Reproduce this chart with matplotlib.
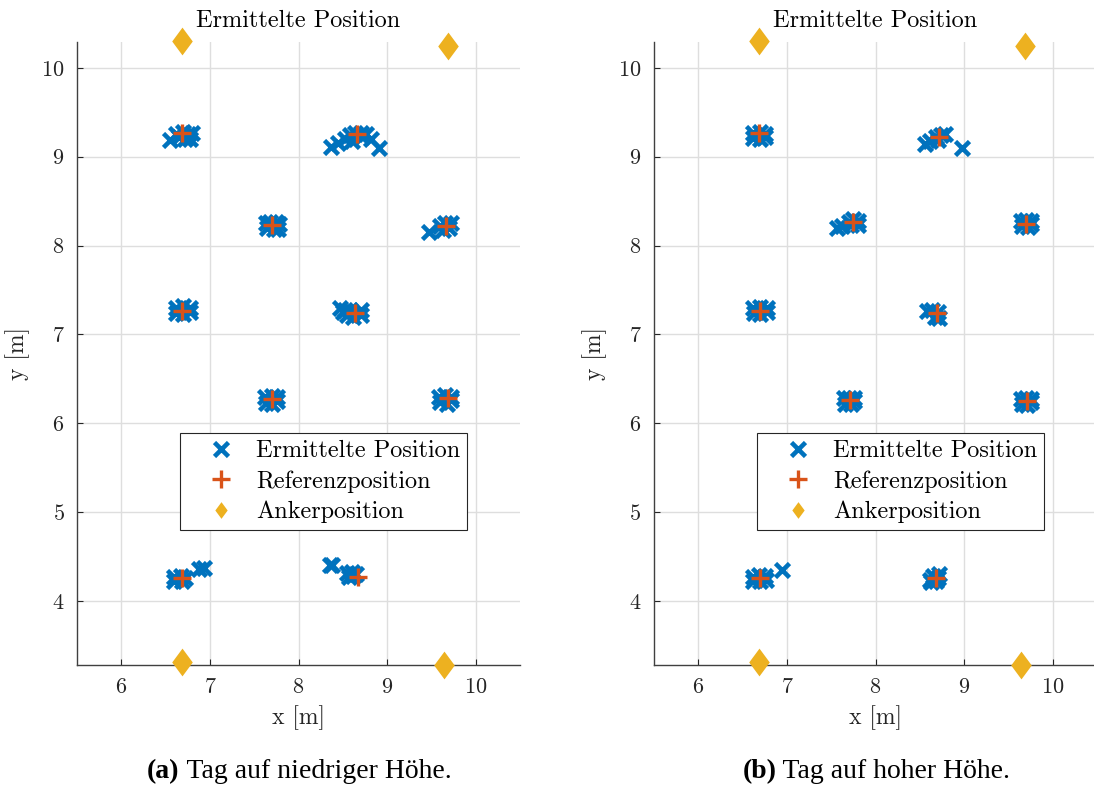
import matplotlib
matplotlib.use("Agg")
import matplotlib.pyplot as plt
from matplotlib.lines import Line2D

plt.rcParams['font.family'] = ['cmr10', 'DejaVu Serif']
plt.rcParams['axes.formatter.use_mathtext'] = True
plt.rcParams['mathtext.fontset'] = 'cm'

BLUE = '#0072BD'
ORANGE = '#D95319'
YELLOW = '#EDB120'

# --- (a) Tag auf niedriger Hoehe ---
est_x_a = [6.55, 6.62, 6.65, 6.72, 6.78, 6.80, 6.70, 6.75,
           8.37, 8.45, 8.52, 8.58, 8.64, 8.70, 8.76, 8.82, 8.91, 8.60, 8.72,
           7.63, 7.68, 7.75, 7.78, 7.64, 7.72, 7.77,
           9.47, 9.60, 9.65, 9.72, 9.70, 9.63,
           6.62, 6.70, 6.77, 6.62, 6.70, 6.77,
           8.47, 8.52, 8.58, 8.55, 8.62, 8.70, 8.70, 8.50,
           7.62, 7.70, 7.76, 7.63, 7.70, 7.76,
           9.58, 9.65, 9.72, 9.60, 9.67, 9.72,
           6.60, 6.67, 6.72, 6.60, 6.68, 6.88, 6.93,
           8.35, 8.38, 8.55, 8.60, 8.57, 8.62, 8.65]
est_y_a = [9.19, 9.26, 9.22, 9.20, 9.20, 9.27, 9.28, 9.25,
           9.11, 9.15, 9.20, 9.24, 9.27, 9.27, 9.25, 9.20, 9.10, 9.18, 9.22,
           8.25, 8.27, 8.27, 8.24, 8.20, 8.19, 8.19,
           8.15, 8.22, 8.25, 8.25, 8.20, 8.18,
           7.30, 7.32, 7.30, 7.24, 7.23, 7.25,
           7.30, 7.27, 7.28, 7.22, 7.20, 7.22, 7.27, 7.25,
           6.30, 6.31, 6.30, 6.23, 6.22, 6.25,
           6.30, 6.32, 6.30, 6.24, 6.22, 6.26,
           4.27, 4.28, 4.26, 4.22, 4.22, 4.36, 4.37,
           4.41, 4.40, 4.31, 4.33, 4.27, 4.28, 4.30]
ref_x_a = [6.68, 8.66, 7.70, 9.66, 6.68, 8.64, 7.70, 9.69, 6.68, 8.67]
ref_y_a = [9.27, 9.25, 8.23, 8.22, 7.26, 7.24, 6.27, 6.28, 4.26, 4.27]

# --- (b) Tag auf hoher Hoehe ---
est_x_b = [6.62, 6.70, 6.75, 6.62, 6.70, 6.75,
           8.56, 8.62, 8.68, 8.74, 8.78, 8.70, 8.98,
           7.56, 7.62, 7.70, 7.75, 7.80, 7.72, 7.80,
           9.64, 9.70, 9.75, 9.65, 9.72, 9.76,
           6.62, 6.70, 6.78, 6.63, 6.70, 6.77,
           8.58, 8.64, 8.70, 8.72, 8.67,
           7.64, 7.70, 7.76, 7.66, 7.72, 7.76,
           9.64, 9.70, 9.76, 9.65, 9.71, 9.76,
           6.62, 6.68, 6.75, 6.62, 6.70, 6.76, 6.95,
           8.62, 8.65, 8.70, 8.63, 8.72, 8.68]
est_y_b = [9.27, 9.28, 9.26, 9.21, 9.20, 9.22,
           9.14, 9.18, 9.22, 9.24, 9.25, 9.19, 9.10,
           8.20, 8.22, 8.26, 8.30, 8.28, 8.23, 8.23,
           8.28, 8.29, 8.28, 8.22, 8.21, 8.24,
           7.30, 7.31, 7.30, 7.24, 7.23, 7.25,
           7.26, 7.27, 7.25, 7.19, 7.20,
           6.28, 6.29, 6.28, 6.22, 6.22, 6.25,
           6.27, 6.28, 6.27, 6.22, 6.21, 6.24,
           4.27, 4.29, 4.28, 4.22, 4.22, 4.24, 4.35,
           4.24, 4.28, 4.26, 4.21, 4.30, 4.22]
ref_x_b = [6.69, 8.72, 7.75, 9.70, 6.70, 8.69, 7.71, 9.71, 6.70, 8.68]
ref_y_b = [9.27, 9.22, 8.27, 8.24, 7.26, 7.24, 6.26, 6.25, 4.26, 4.26]

# anchors (same for both)
anchor_x = [6.68, 9.69, 6.68, 9.64]
anchor_y = [10.30, 10.24, 3.31, 3.28]

xticks = [6, 7, 8, 9, 10]
yticks = [4, 5, 6, 7, 8, 9, 10]

captions = [("(a)", " Tag auf niedriger Höhe."), ("(b)", " Tag auf hoher Höhe.")]

diamond = [(0, 1), (0.74, 0), (0, -1), (-0.74, 0), (0, 1)]
cap_font = ['Liberation Serif', 'DejaVu Serif']

fig = plt.figure(figsize=(10.94, 7.9), dpi=100)
positions = [[0.0704, 0.1582, 0.405, 0.7886], [0.5978, 0.1582, 0.405, 0.7886]]
datasets = [(est_x_a, est_y_a, ref_x_a, ref_y_a), (est_x_b, est_y_b, ref_x_b, ref_y_b)]

for pos, (ex, ey, rx, ry), (lab, cap) in zip(positions, datasets, captions):
    ax = fig.add_axes(pos)
    ax.plot(ex, ey, linestyle='none', marker='x', color=BLUE, markersize=9.5, mew=3.3, zorder=3)
    ax.plot(rx, ry, linestyle='none', marker='+', color=ORANGE, markersize=13, mew=2.4, zorder=4)
    ax.plot(anchor_x, anchor_y, linestyle='none', marker=diamond, color=YELLOW,
            markersize=20, mew=0, zorder=5, clip_on=False)

    ax.set_xlim(5.5, 10.5)
    ax.set_ylim(3.28, 10.29)
    ax.set_xticks(xticks)
    ax.set_yticks(yticks)
    ax.grid(True, color='#dedede', linewidth=1.0)
    ax.set_axisbelow(True)
    for s in ['top', 'right']:
        ax.spines[s].set_visible(False)
    for s in ['left', 'bottom']:
        ax.spines[s].set_color('#404040')
        ax.spines[s].set_linewidth(1.0)
    ax.tick_params(direction='in', length=4, width=0.8, color='#262626',
                   labelsize=16, labelcolor='#262626', pad=9)

    ax.set_xlabel("x [m]", fontsize=17, color='#262626', labelpad=6)
    ax.set_ylabel("y [m]", fontsize=17, color='#262626', labelpad=8)
    ax.set_title("Ermittelte Position", fontsize=17.5, pad=11)

    handles = [
        Line2D([], [], linestyle='none', marker='x', color=BLUE, markersize=9.5, mew=3.3),
        Line2D([], [], linestyle='none', marker='+', color=ORANGE, markersize=13, mew=2.4),
        Line2D([], [], linestyle='none', marker=diamond, color=YELLOW, markersize=12, mew=0),
    ]
    leg = ax.legend(handles, ["Ermittelte Position", "Referenzposition", "Ankerposition"],
                    loc='upper left', bbox_to_anchor=(0.232, 0.372), borderaxespad=0,
                    fontsize=17.5, fancybox=False, framealpha=1, edgecolor='#262626',
                    handlelength=2.8, handletextpad=0.05, labelspacing=0.33, borderpad=0.28)
    leg.get_frame().set_linewidth(0.8)

    cx = pos[0] + pos[2] / 2
    t1 = fig.text(cx, 0.008, lab + cap, fontsize=20, family=cap_font,
                  ha='center', va='bottom', alpha=0)
    fig.canvas.draw()
    bb = t1.get_window_extent()
    ta = fig.text(bb.x0 / fig.bbox.width, 0.008, lab, fontsize=20, family=cap_font,
                  weight='bold', ha='left', va='bottom')
    bba = ta.get_window_extent()
    fig.text(bba.x1 / fig.bbox.width, 0.008, cap, fontsize=20, family=cap_font,
             ha='left', va='bottom')

fig.savefig("out.png", dpi=100)
